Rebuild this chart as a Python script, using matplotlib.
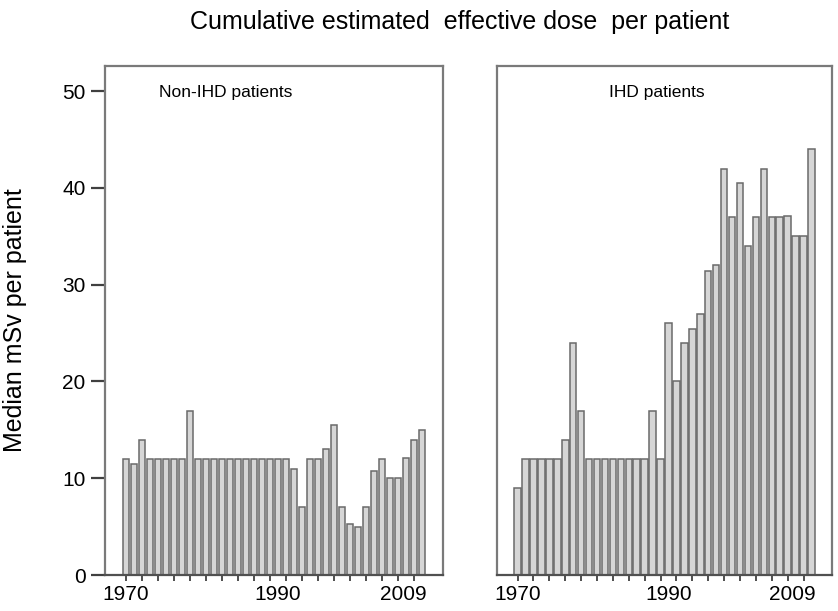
import numpy as np
import matplotlib
matplotlib.use("Agg")
import matplotlib.pyplot as plt
from matplotlib.ticker import FixedLocator

plt.rcParams["font.family"] = ["Liberation Sans", "DejaVu Sans"]

# median mSv per patient, one bar per year (38 bars per panel)
non_ihd = [12, 11.5, 14, 12, 12, 12, 12, 12, 17, 12,
           12, 12, 12, 12, 12, 12, 12, 12, 12, 12,
           12, 11, 7, 12, 12, 13, 15.5, 7, 5.3, 5,
           7, 10.7, 12, 10, 10, 12.1, 14, 15]
ihd = [9, 12, 12, 12, 12, 12, 14, 24, 17, 12,
       12, 12, 12, 12, 12, 12, 12, 17, 12, 26,
       20, 24, 25.4, 27, 31.4, 32, 42, 37, 40.5, 34,
       37, 42, 37, 37, 37.1, 35, 35, 44]

# year labels and where they sit along the category axis
year_labels = ["1970", "1990", "2009"]
year_label_pos = [0, 19, 34.6]

panel_titles = ["Non-IHD patients", "IHD patients"]

fig = plt.figure(figsize=(8.38, 6.11), dpi=100)
ax1 = fig.add_axes([0.1253, 0.0589, 0.4033, 0.833])
ax2 = fig.add_axes([0.593, 0.0589, 0.40, 0.833])

frame_col = "#7a7a7a"
for ax, vals, title, tx in [(ax1, non_ihd, panel_titles[0], 0.358),
                            (ax2, ihd, panel_titles[1], 0.478)]:
    x = np.arange(len(vals))
    ax.bar(x, vals, width=0.82, color="#d6d6d6", edgecolor="#6a6a6a",
           linewidth=1.1, zorder=2)
    ax.set_xlim(-2.6, 39.6)
    ax.set_ylim(0, 52.6)
    for s in ax.spines.values():
        s.set_color(frame_col)
        s.set_linewidth(1.6)
    ax.spines["bottom"].set_color("#505050")
    # small tick marks every other bar, labels on a few years
    ax.xaxis.remove_overlapping_locs = False
    ax.xaxis.set_minor_locator(FixedLocator(x[::2]))
    ax.set_xticks(year_label_pos)
    ax.set_xticklabels(year_labels, fontsize=15)
    ax.tick_params(axis="x", which="major", length=0, pad=7)
    ax.tick_params(axis="x", which="minor", length=4, width=1.2,
                   color="#303030", direction="out")
    ax.text(tx, 0.949, title, transform=ax.transAxes, ha="center",
            va="center", fontsize=12.5)

ax1.set_yticks([0, 10, 20, 30, 40, 50])
ax1.tick_params(axis="y", length=10, width=1.6, color="#404040",
                labelsize=15, pad=4)
ax1.set_ylabel("Median mSv per patient", fontsize=18)
ax1.yaxis.set_label_coords(-0.231, 0.5)
ax2.set_yticks([])

fig.text(0.549, 0.964, "Cumulative estimated  effective dose  per patient",
         ha="center", va="center", fontsize=18)

fig.savefig("out.png", dpi=100)
